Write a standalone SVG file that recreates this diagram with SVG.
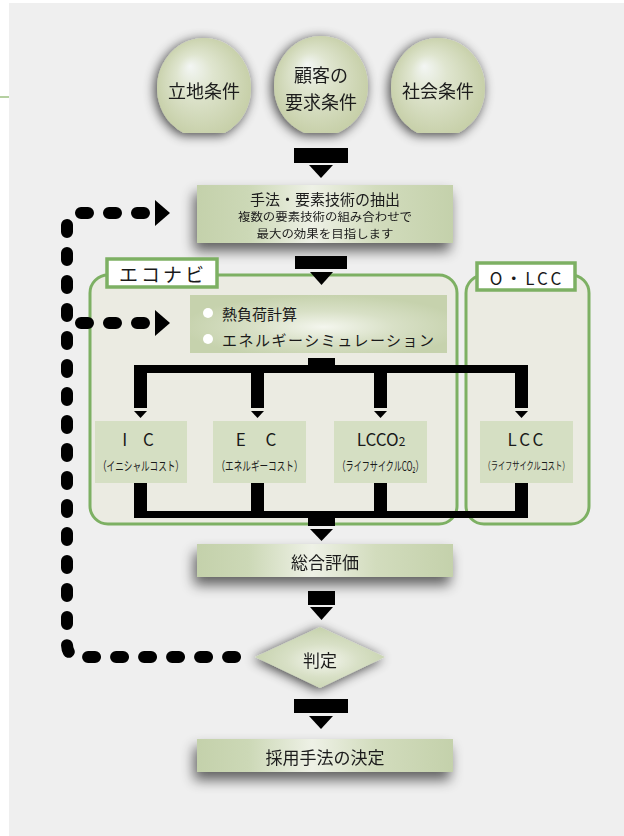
<svg xmlns="http://www.w3.org/2000/svg" width="624" height="836" viewBox="0 0 624 836">
<defs>
<style>
text{font-family:"Noto Sans CJK JP","Noto Sans",sans-serif;fill:#1a1a1a;text-anchor:middle;dominant-baseline:central}
.bar{fill:#000}
.box{fill:url(#boxg)}
.sub{fill:#d5dfc3}
.cont{fill:#ebebe2;stroke:#7db063;stroke-width:3}
.lab{fill:#fff;stroke:#7db063;stroke-width:3.5}
.dash{fill:none;stroke:#000;stroke-width:12;stroke-linecap:round;stroke-dasharray:7 21}
.st{font-size:12.5px}
</style>
<linearGradient id="boxg" x1="0" y1="0" x2="1" y2="0">
<stop offset="0" stop-color="#c4d1ab"/>
<stop offset="0.2" stop-color="#ccd8b6"/>
<stop offset="0.45" stop-color="#eef1e6"/>
<stop offset="0.7" stop-color="#d2dcbd"/>
<stop offset="1" stop-color="#c4d1ab"/>
</linearGradient>
<radialGradient id="inng" cx="0.52" cy="0.55" r="0.55">
<stop offset="0" stop-color="#f4f6ee"/>
<stop offset="0.5" stop-color="#d8e0c6"/>
<stop offset="1" stop-color="#c6d2ad"/>
</radialGradient>
<radialGradient id="circg" cx="0.5" cy="0.5" r="0.55" fx="0.35" fy="0.28">
<stop offset="0" stop-color="#f3f6f4"/>
<stop offset="0.35" stop-color="#dfe5cf"/>
<stop offset="1" stop-color="#c4cda4"/>
</radialGradient>
<filter id="sh" x="-30%" y="-60%" width="160%" height="240%">
<feGaussianBlur in="SourceAlpha" stdDeviation="6.5"/>
<feOffset dx="-3" dy="8"/>
<feComponentTransfer><feFuncA type="linear" slope="0.6"/></feComponentTransfer>
<feMerge><feMergeNode/><feMergeNode in="SourceGraphic"/></feMerge>
</filter>
<filter id="shc" x="-40%" y="-40%" width="180%" height="180%">
<feGaussianBlur in="SourceAlpha" stdDeviation="6"/>
<feOffset dx="-2" dy="2"/>
<feComponentTransfer><feFuncA type="linear" slope="0.75"/></feComponentTransfer>
<feMerge><feMergeNode/><feMergeNode in="SourceGraphic"/></feMerge>
</filter>
<clipPath id="cut"><rect x="0" y="0" width="624" height="133"/></clipPath>
</defs>

<rect x="0" y="0" width="624" height="836" fill="#fff"/>
<rect x="9" y="3" width="615" height="833" fill="#efefef"/>
<line x1="0" y1="97" x2="9" y2="97" stroke="#9cc082" stroke-width="1.5"/>

<g id="n-ritchi" filter="url(#shc)">
<ellipse cx="204" cy="88" rx="47" ry="50" fill="url(#circg)" clip-path="url(#cut)"/>
<text x="204" y="90" font-size="18">立地条件</text>
</g>
<g id="n-kokyaku" filter="url(#shc)">
<ellipse cx="321" cy="86" rx="47" ry="50" fill="url(#circg)" clip-path="url(#cut)"/>
<text x="321" y="74" font-size="18">顧客の</text>
<text x="321" y="101" font-size="18">要求条件</text>
</g>
<g id="n-shakai" filter="url(#shc)">
<ellipse cx="438" cy="88" rx="47" ry="50" fill="url(#circg)" clip-path="url(#cut)"/>
<text x="438" y="90" font-size="18">社会条件</text>
</g>

<g id="n-shuho" filter="url(#sh)">
<rect x="197" y="185" width="256" height="58" class="box"/>
<text x="325" y="198" font-size="15">手法・要素技術の抽出</text>
<text x="325" y="215.5" font-size="11.5" textLength="174" lengthAdjust="spacingAndGlyphs">複数の要素技術の組み合わせで</text>
<text x="325" y="232.5" font-size="11.5" textLength="137" lengthAdjust="spacingAndGlyphs">最大の効果を目指します</text>
</g>

<g id="n-econavi">
<rect x="90" y="275" width="367" height="249" rx="18" class="cont"/>
<rect x="107" y="259" width="110" height="28" class="lab"/>
<text x="163" y="273" font-size="19" letter-spacing="3">エコナビ</text>
</g>
<g id="n-olcc">
<rect x="466" y="275" width="123" height="249" rx="18" class="cont"/>
<rect x="477" y="263" width="98" height="27" class="lab"/>
<text x="527" y="277" font-size="17" letter-spacing="3">O・LCC</text>
</g>

<g id="n-calc">
<rect x="190" y="295" width="257" height="58" fill="url(#inng)"/>
<circle cx="208" cy="313" r="5" fill="#fff"/>
<circle cx="208" cy="339" r="5" fill="#fff"/>
<text x="222" y="313" font-size="15" style="text-anchor:start">熱負荷計算</text>
<text x="222" y="339" font-size="15" style="text-anchor:start" letter-spacing="1.5">エネルギーシミュレーション</text>
</g>

<g id="n-ic">
<rect x="95" y="421" width="92" height="62" class="sub"/>
<text x="141" y="438" font-size="17" letter-spacing="6">I C</text>
<text x="141" y="465" class="st" textLength="86" lengthAdjust="spacingAndGlyphs">（イニシャルコスト）</text>
</g>
<g id="n-ec">
<rect x="213" y="421" width="93" height="62" class="sub"/>
<text x="260" y="438" font-size="17" letter-spacing="8">E C</text>
<text x="259.5" y="465" class="st" textLength="86" lengthAdjust="spacingAndGlyphs">（エネルギーコスト）</text>
</g>
<g id="n-lcco2">
<rect x="334" y="421" width="93" height="62" class="sub"/>
<text x="381" y="438" font-size="17">LCCO<tspan font-size="12" dy="2">2</tspan></text>
<text x="380.5" y="465" class="st" textLength="86" lengthAdjust="spacingAndGlyphs">（ライフサイクルCO₂）</text>
</g>
<g id="n-lcc">
<rect x="480" y="421" width="93" height="62" class="sub"/>
<text x="527" y="438" font-size="17" letter-spacing="3">LCC</text>
<text x="526.5" y="465" font-size="10.8" textLength="86" lengthAdjust="spacingAndGlyphs">（ライフサイクルコスト）</text>
</g>

<g id="n-sogo" filter="url(#sh)">
<rect x="197" y="544" width="256" height="33" class="box"/>
<text x="325" y="561" font-size="17">総合評価</text>
</g>

<g id="n-hantei" filter="url(#shc)">
<polygon points="255,657 320,627 385,657 320,688" fill="url(#inng)"/>
<text x="320" y="659" font-size="17">判定</text>
</g>

<g id="n-kettei" filter="url(#sh)">
<rect x="197" y="739" width="256" height="33" class="box"/>
<text x="325" y="756" font-size="17">採用手法の決定</text>
</g>

<g id="connectors">
<rect class="bar" x="294" y="148" width="54" height="15"/>
<polygon class="bar" points="309,165 333,165 321,178"/>
<rect class="bar" x="295" y="256" width="52" height="13"/>
<polygon class="bar" points="310,272 333,272 321.5,285"/>

<rect class="bar" x="308" y="358" width="27" height="15"/>
<rect class="bar" x="134" y="365" width="394" height="8"/>
<rect class="bar" x="134" y="365" width="13" height="43"/>
<rect class="bar" x="251" y="365" width="13" height="43"/>
<rect class="bar" x="374" y="365" width="13" height="43"/>
<rect class="bar" x="515" y="365" width="13" height="43"/>
<polygon class="bar" points="134,411 147,411 140.5,418"/>
<polygon class="bar" points="251,411 264,411 257.5,418"/>
<polygon class="bar" points="374,411 387,411 380.5,418"/>
<polygon class="bar" points="515,411 528,411 521.5,418"/>

<rect class="bar" x="134" y="483" width="13" height="35"/>
<rect class="bar" x="251" y="483" width="13" height="35"/>
<rect class="bar" x="374" y="483" width="13" height="35"/>
<rect class="bar" x="515" y="483" width="13" height="35"/>
<rect class="bar" x="134" y="511" width="394" height="7"/>
<rect class="bar" x="308" y="511" width="27" height="15"/>
<polygon class="bar" points="310,529 333,529 321.5,541"/>

<rect class="bar" x="308" y="591" width="27" height="14"/>
<polygon class="bar" points="310,607 333,607 321.5,620"/>
<rect class="bar" x="294" y="699" width="54" height="14"/>
<polygon class="bar" points="309,716 333,716 321,729"/>

<path class="dash" d="M144 213 H80 Q67 213 67 226 V644 Q67 657 80 657 H236"/>
<path class="dash" d="M144 323 H72"/>
<polygon class="bar" points="155,200 170,213 155,226"/>
<polygon class="bar" points="155,310 170,323 155,336"/>
</g>
</svg>
